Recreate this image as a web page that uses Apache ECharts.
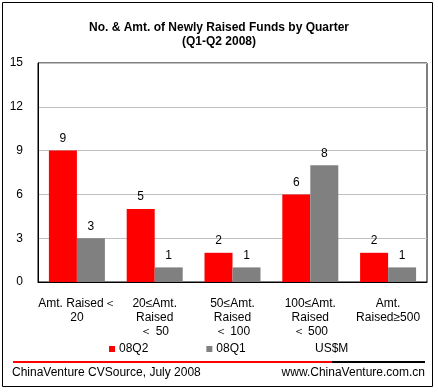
<!DOCTYPE html>
<html><head><meta charset="utf-8">
<script src="https://cdn.jsdelivr.net/npm/echarts@6/dist/echarts.min.js"></script>
<style>html,body{margin:0;padding:0;background:#fff}#c{width:438px;height:392px}</style>
</head><body><div id="c"></div>
<script>
var categories = ["Amt. Raised＜\n20", "20≤Amt.\nRaised\n＜ 50", "50≤Amt.\nRaised\n＜ 100", "100≤Amt.\nRaised\n＜ 500", "Amt.\nRaised≥500"];
var q2 = [9, 5, 2, 6, 2];
var q1 = [3, 1, 1, 8, 1];
var yTicks = [0, 3, 6, 9, 12, 15];
var F = "Arial, 'Liberation Sans', sans-serif";
var chart = echarts.init(document.getElementById('c'));
chart.setOption({
  animation: false,
  textStyle: {fontFamily: F},
  title: {
    text: "No. & Amt. of Newly Raised Funds by Quarter\n(Q1-Q2 2008)",
    left: 'center', top: 16,
    textStyle: {fontSize: 12, fontWeight: 'bold', color: '#000', lineHeight: 14, fontFamily: F}
  },
  legend: {
    left: 104, top: 338, itemWidth: 6, itemHeight: 6, itemGap: 58,
    icon: 'rect',
    textStyle: {fontSize: 12, color: '#000', fontFamily: F, padding: [0,0,0,-1]},
    data: ['08Q2', '08Q1']
  },
  grid: {left: 38, right: 11, top: 63, bottom: 110, show: true, borderColor: '#000', borderWidth: 1, containLabel: false},
  xAxis: {
    type: 'category', data: categories,
    axisLine: {lineStyle: {color: '#000'}},
    axisTick: {show: false},
    axisLabel: {color: '#000', fontSize: 12, lineHeight: 14, margin: 15, interval: 0, fontFamily: F}
  },
  yAxis: {
    type: 'value', min: yTicks[0], max: yTicks[yTicks.length-1], interval: 3,
    axisLine: {show: true, lineStyle: {color: '#000'}},
    axisTick: {show: false},
    splitLine: {lineStyle: {color: '#c0c0c0'}},
    axisLabel: {color: '#000', fontSize: 12, margin: 15, fontFamily: F}
  },
  series: [
    {name: '08Q2', type: 'bar', data: q2, barWidth: 28, barGap: '0%', itemStyle: {color: '#ff0000'},
     label: {show: true, position: 'top', distance: 6, color: '#000', fontSize: 12, fontFamily: F}},
    {name: '08Q1', type: 'bar', data: q1, barWidth: 28, barGap: '0%', itemStyle: {color: '#808080'},
     label: {show: true, position: 'top', distance: 6, color: '#000', fontSize: 12, fontFamily: F}}
  ],
  graphic: [
    {type: 'rect', shape: {x: 2.5, y: 2.5, width: 430, height: 384}, style: {fill: 'none', stroke: '#000', lineWidth: 1}, silent: true, z: -1},
    {type: 'text', left: 315, top: 343, style: {text: 'US$M', fontSize: 12, fill: '#000', fontFamily: F}},
    {type: 'rect', shape: {x: 13, y: 361, width: 319, height: 2}, style: {fill: '#ff0000'}},
    {type: 'rect', shape: {x: 332, y: 361, width: 93, height: 2}, style: {fill: '#000'}},
    {type: 'text', left: 12, top: 367, style: {text: 'ChinaVenture CVSource, July 2008', fontSize: 12, fill: '#000', fontFamily: F}},
    {type: 'text', right: 13, top: 367, style: {text: 'www.ChinaVenture.com.cn', fontSize: 12, fill: '#000', fontFamily: F}}
  ]
});
</script></body></html>
